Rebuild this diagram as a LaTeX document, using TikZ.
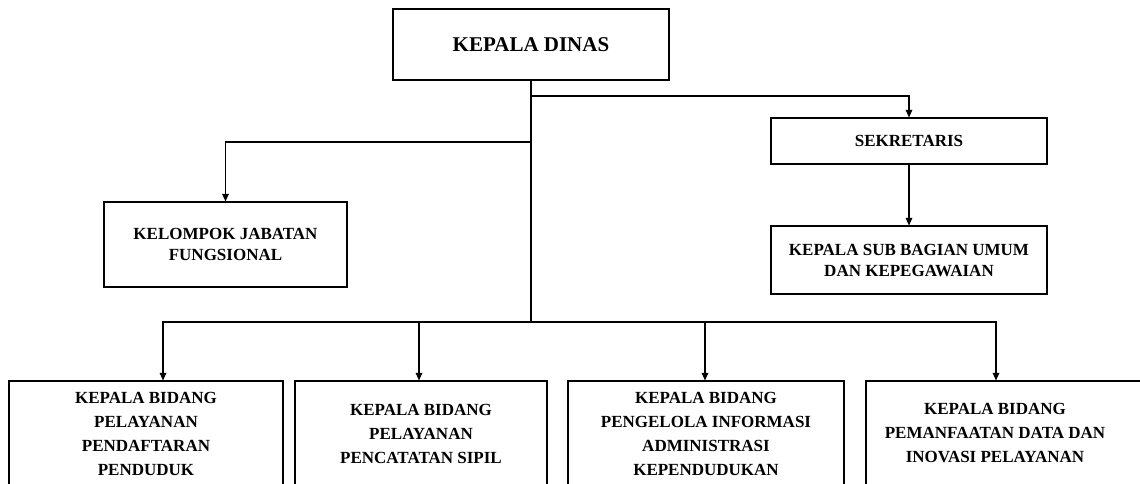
\documentclass[tikz,border=0pt]{standalone}
\usepackage{fontspec}
\setmainfont{Liberation Serif}
\usetikzlibrary{arrows.meta}

\begin{document}
\begin{tikzpicture}[x=1pt,y=-1pt,
  kotak/.style={draw=black,line width=1.1pt,align=center,inner sep=0pt,font=\bfseries\fontsize{17}{21}\selectfont},
  bidang/.style={kotak,minimum height=105pt,font=\bfseries\fontsize{17}{24}\selectfont},
  garis/.style={black,line width=1.1pt},
  panah/.style={garis,-{Triangle[length=7.5pt,width=6.5pt]}}]
\useasboundingbox (0,0) rectangle (1140,484);
\node[kotak,minimum width=276pt,minimum height=71pt,font=\bfseries\fontsize{21}{25}\selectfont] (dinas) at (531,44.5) {KEPALA DINAS};
\node[kotak,minimum width=276pt,minimum height=46pt] (sek) at (909,141) {SEKRETARIS};
\node[kotak,minimum width=276pt,minimum height=68pt] (umum) at (909,260) {KEPALA SUB BAGIAN UMUM\\DAN KEPEGAWAIAN};
\node[kotak,minimum width=243pt,minimum height=85pt] (jf) at (225.5,244.5) {KELOMPOK JABATAN\\FUNGSIONAL};
\node[bidang,minimum width=274pt] (pd) at (146,433.5) {KEPALA BIDANG\\PELAYANAN\\PENDAFTARAN\\PENDUDUK};
\node[bidang,minimum width=252pt] (pc) at (421,433.5) {KEPALA BIDANG\\PELAYANAN\\PENCATATAN SIPIL};
\node[bidang,minimum width=276pt] (pi) at (706,433.5) {KEPALA BIDANG\\PENGELOLA INFORMASI\\ADMINISTRASI\\KEPENDUDUKAN};
\node[bidang,minimum width=280pt] (pm) at (1006,433.5) {\begin{tabular}{@{}c@{}}KEPALA BIDANG\\PEMANFAATAN DATA DAN\\INOVASI PELAYANAN\end{tabular}\hspace*{22pt}};
\coordinate (jsek) at (531,96);
\coordinate (jjf) at (531,142);
\coordinate (bus) at (531,322);
\draw[garis] (dinas) -- (bus);
\draw[panah] (jsek) -| (sek.north);
\draw[panah] (jjf) -| (jf.north);
\draw[panah] (sek) -- (umum);
\draw[panah] (bus) -| ([xshift=17pt]pd.north);
\draw[panah] (bus) -| ([xshift=-2pt]pc.north);
\draw[panah] (bus) -| ([xshift=-1pt]pi.north);
\draw[panah] (bus) -| ([xshift=-10pt]pm.north);
\end{tikzpicture}
\end{document}
